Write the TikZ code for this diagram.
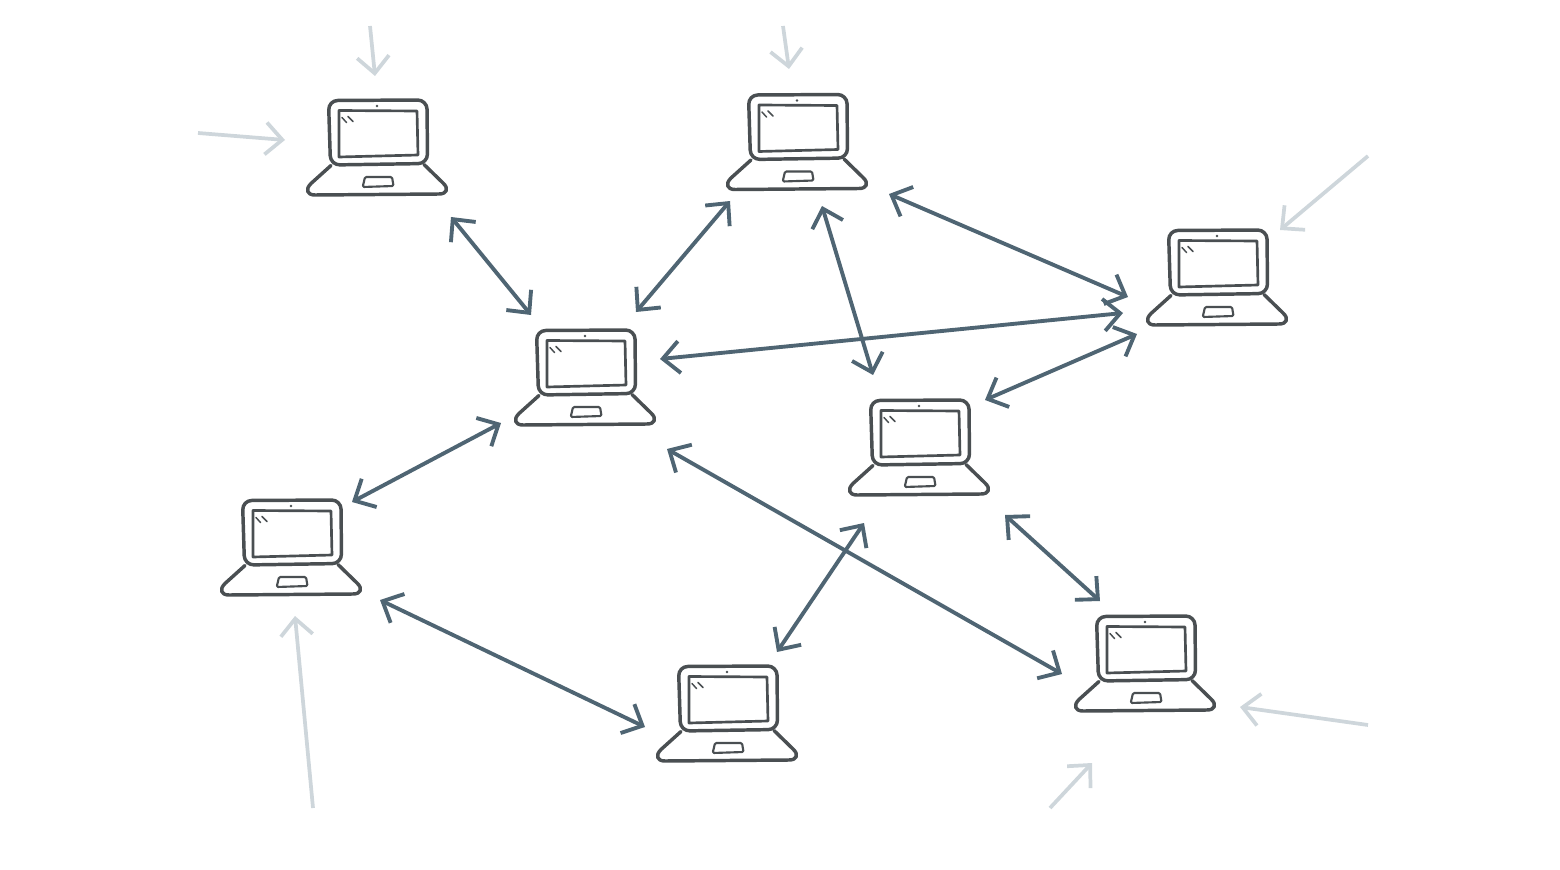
\documentclass[tikz,border=0pt]{standalone}
\usetikzlibrary{arrows.meta,calc}
\definecolor{arrowdark}{HTML}{4F6573}
\definecolor{arrowpale}{HTML}{CED6DB}
\definecolor{laptopink}{HTML}{4A4F52}
\tikzset{
  lapspot/.style={inner sep=0pt,outer sep=0pt,minimum width=105pt,minimum height=71.25pt},
  linkarrow/.style={draw=arrowdark,line width=2.9pt,{Straight Barb[length=12.5pt,width=24pt]}-{Straight Barb[length=12.5pt,width=24pt]}},
  palearrow/.style={draw=arrowpale,line width=2.8pt,-{Straight Barb[length=12.5pt,width=24pt]}},
  lapline/.style={draw=laptopink,line width=2.6pt,line join=round,line cap=round},
  lapthin/.style={draw=laptopink,line width=2pt,line join=round,line cap=round},
  laptop/.pic={
    \draw[lapline,rounded corners=7pt] (-48.5,-47) -- (50,-47.5) -- (50.5,16) -- (-46.5,17.5) -- cycle;
    \draw[lapthin] (-38,-37) -- (40,-36.5) -- (41,7.5) -- (-38,9.5) -- cycle;
    \draw[lapline] (-46,18) -- (-66,36) .. controls (-72,42) and (-70,47.5) .. (-62,47.5) -- (62,46.5) .. controls (70,46.5) and (72,41) .. (66,35.5) -- (47,17);
    \draw[lapthin,line width=1.6pt,rounded corners=1pt] (-12,29.5) -- (15,29.5) -- (16.5,38.5) -- (-14.3,39.5) -- cycle;
    \fill[laptopink] (0,-41.5) circle (1.4);
    \draw[lapthin,line width=1.1pt] (-35,-30) -- (-30.5,-25) (-29,-31) -- (-24,-26);
  }
}
\begin{document}
\begin{tikzpicture}[x=0.75pt,y=-0.75pt]
\useasboundingbox (0,0) rectangle (1560,870);
\node[lapspot] (L1) at (377,147.5) {};
\node[lapspot] (L2) at (797,142) {};
\node[lapspot] (L3) at (1217,277.5) {};
\node[lapspot] (L4) at (585,377.5) {};
\node[lapspot] (L5) at (919,447.5) {};
\node[lapspot] (L6) at (291,547.5) {};
\node[lapspot] (L7) at (727,713.5) {};
\node[lapspot] (L8) at (1145,663.5) {};
\foreach \n in {L1,L2,L3,L4,L5,L6,L7,L8} \pic at (\n) {laptop};
\coordinate (g1) at (370,26);
\coordinate (g2) at (198,133);
\coordinate (g3) at (783,26);
\coordinate (g4) at (1368,156);
\coordinate (g5) at (1368,725);
\coordinate (g6) at (1050,808);
\coordinate (g7) at (313,808);
\draw[palearrow] (g1) -- ($(L1)+(-2,-71.5)$);
\draw[palearrow] (g2) -- ($(L1)+(-92,-7.5)$);
\draw[palearrow] (g3) -- ($(L2)+(-8,-73)$);
\draw[palearrow] (g4) -- ($(L3)+(63,-47.5)$);
\draw[palearrow] (g5) -- ($(L8)+(95,43.5)$);
\draw[palearrow] (g6) -- ($(L8)+(-53,99.5)$);
\draw[palearrow] (g7) -- ($(L6)+(4,68.5)$);
\draw[linkarrow] ($(L1)+(74,69.5)$) -- ($(L4)+(-54,-62.5)$);
\draw[linkarrow] ($(L4)+(51,-65.5)$) -- ($(L2)+(-67,59)$);
\draw[linkarrow] ($(L2)+(25,64)$) -- ($(L5)+(-46,-72.5)$);
\draw[linkarrow] ($(L2)+(92,52)$) -- ($(L3)+(-89,19.5)$);
\draw[linkarrow] ($(L4)+(75,-18.5)$) -- ($(L3)+(-94,35.5)$);
\draw[linkarrow] ($(L5)+(66,-47.5)$) -- ($(L3)+(-80,56.5)$);
\draw[linkarrow] ($(L6)+(61,-45.5)$) -- ($(L4)+(-84,45.5)$);
\draw[linkarrow] ($(L4)+(82,71.5)$) -- ($(L8)+(-83,10.5)$);
\draw[linkarrow] ($(L5)+(86,67.5)$) -- ($(L8)+(-45,-62.5)$);
\draw[linkarrow] ($(L5)+(-55,75.5)$) -- ($(L7)+(50,-61.5)$);
\draw[linkarrow] ($(L6)+(89,52.5)$) -- ($(L7)+(-82,13.5)$);
\end{tikzpicture}
\end{document}
